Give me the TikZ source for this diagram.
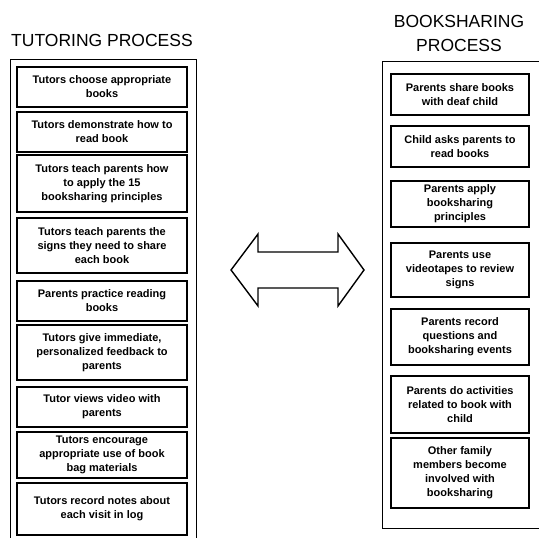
\documentclass[tikz,border=0pt]{standalone}
\usepackage{fontspec}
\setmainfont{Liberation Sans}
\begin{document}
\begin{tikzpicture}[x=1pt,y=-1pt,
  title/.style={font=\fontsize{17.5}{24}\selectfont, align=center, inner sep=0pt},
  stepbox/.style={draw, line width=1.1pt, align=center, inner sep=0pt,
    font=\bfseries\fontsize{11}{14}\selectfont},
  leftbox/.style={stepbox, minimum width=170pt},
  rightbox/.style={stepbox, minimum width=138pt},
  frame/.style={draw, line width=0.9pt}]
\useasboundingbox (0,0) rectangle (539,538);
\begin{scope}
\clip (0,0) rectangle (539,538);

% titles
\node[title] (tt) at (102,40) {TUTORING PROCESS};
\node[title] (bt) at (459,33) {BOOKSHARING\\PROCESS};

% outer frames (both run past the page edge)
\draw[frame] (10,59) rectangle (196,560);
\draw[frame] (382,61) rectangle (560,528);

% tutoring steps
\node[leftbox, minimum height=40pt] (l1) at (102,87) {Tutors choose appropriate\\books};
\node[leftbox, minimum height=40pt] (l2) at (102,132) {Tutors demonstrate how to\\read book};
\node[leftbox, minimum height=57pt] (l3) at (102,183.5) {Tutors teach parents how\\to apply the 15\\booksharing principles};
\node[leftbox, minimum height=55pt] (l4) at (102,245.5) {Tutors teach parents the\\signs they need to share\\each book};
\node[leftbox, minimum height=40pt] (l5) at (102,301) {Parents practice reading\\books};
\node[leftbox, minimum height=55pt] (l6) at (102,352.5) {Tutors give immediate,\\personalized feedback to\\parents};
\node[leftbox, minimum height=40pt] (l7) at (102,407) {Tutor views video with\\parents};
\node[leftbox, minimum height=46pt] (l8) at (102,455) {Tutors encourage\\appropriate use of book\\bag materials};
\node[leftbox, minimum height=52pt] (l9) at (102,509) {Tutors record notes about\\each visit in log};

% booksharing steps
\node[rightbox, minimum height=41pt] (r1) at (460,94.5) {Parents share books\\with deaf child};
\node[rightbox, minimum height=41pt] (r2) at (460,146.5) {Child asks parents to\\read books};
\node[rightbox, minimum height=46pt] (r3) at (460,204) {Parents apply\\booksharing\\principles};
\node[rightbox, minimum height=54pt] (r4) at (460,270) {Parents use\\videotapes to review\\signs};
\node[rightbox, minimum height=56pt] (r5) at (460,337) {Parents record\\questions and\\booksharing events};
\node[rightbox, minimum height=57pt] (r6) at (460,404.5) {Parents do activities\\related to book with\\child};
\node[rightbox, minimum height=70pt] (r7) at (460,473) {Other family\\members become\\involved with\\booksharing};

% two-headed block arrow between the processes
\draw[line width=1.4pt, line join=miter]
  (231,270) -- (258,234) -- (258,252) -- (338,252) -- (338,234) -- (364,270)
  -- (338,306) -- (338,288) -- (258,288) -- (258,306) -- cycle;
\end{scope}
\end{tikzpicture}
\end{document}
